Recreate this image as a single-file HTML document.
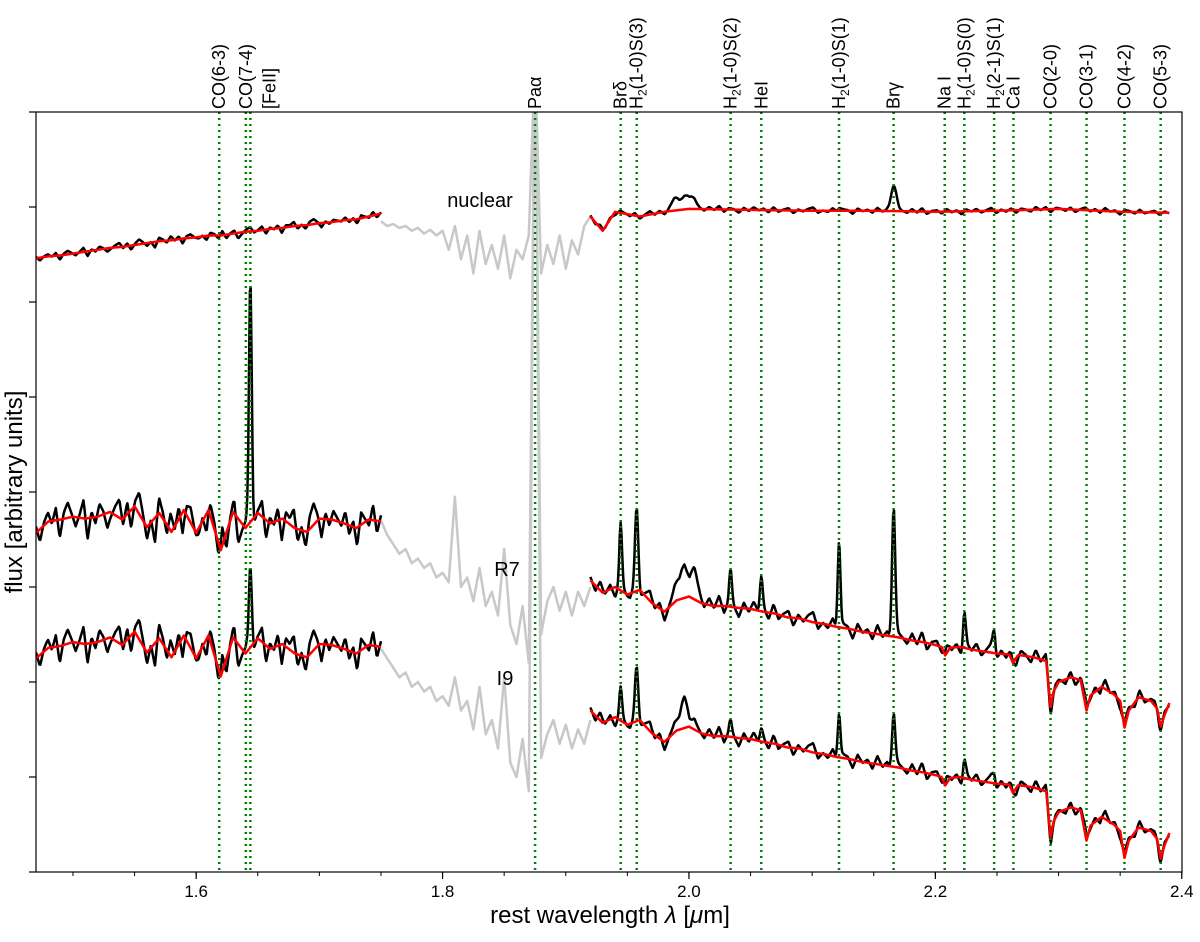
<!DOCTYPE html>
<html><head><meta charset="utf-8"><style>
body{margin:0;background:#fff}
svg text{font-family:"Liberation Sans","DejaVu Sans",sans-serif}
</style></head><body>
<svg id="chart" width="1200" height="937" viewBox="0 0 1200 937" xmlns="http://www.w3.org/2000/svg">
<defs><clipPath id="plotclip"><rect x="36" y="112" width="1146" height="760"/></clipPath></defs>
<g id="plot" clip-path="url(#plotclip)"></g>
<g id="axes"></g>
</svg>
<script>
// ---- data ----
const lineNames = ["CO(6-3)","CO(7-4)","[FeII]","Paα","Brδ","H2(1-0)S(3)","H2(1-0)S(2)","HeI","H2(1-0)S(1)","Brγ","Na I","H2(1-0)S(0)","H2(2-1)S(1)","Ca I","CO(2-0)","CO(3-1)","CO(4-2)","CO(5-3)"];
const lineWaves = [1.6187,1.6403,1.644,1.8751,1.9446,1.9576,2.0338,2.0587,2.1218,2.1661,2.2076,2.2235,2.2477,2.2634,2.2935,2.3227,2.3535,2.3829];
const xTicks = [1.6,1.8,2.0,2.2,2.4];
const xTickLabels = ["1.6","1.8","2.0","2.2","2.4"];
const yTicks = [0,1,2,3,4,5,6,7,8];

const hRange = [1.47,1.75];
const grayRange = [1.75,1.92];
const nucHRed = [6.46,6.48,6.49,6.51,6.53,6.55,6.57,6.58,6.60,6.62,6.64,6.65,6.67,6.68,6.70,6.70,6.72,6.74,6.75,6.77,6.78,6.80,6.81,6.83,6.84,6.86,6.87,6.90,6.93];
const r7HRed = [3.57,3.69,3.71,3.74,3.72,3.74,3.79,3.71,3.85,3.63,3.78,3.58,3.81,3.57,3.81,3.39,3.79,3.62,3.78,3.67,3.72,3.62,3.58,3.72,3.71,3.67,3.62,3.71,3.69];
const i9HRed = [2.25,2.36,2.38,2.42,2.40,2.42,2.47,2.39,2.53,2.31,2.46,2.26,2.49,2.25,2.49,2.06,2.47,2.30,2.46,2.35,2.40,2.30,2.26,2.40,2.39,2.35,2.30,2.39,2.37];

const nucGray = [6.85,6.80,6.82,6.78,6.80,6.75,6.78,6.72,6.76,6.70,6.75,6.55,6.80,6.45,6.70,6.30,6.75,6.40,6.60,6.35,6.70,6.25,6.55,6.45,6.70,8.6,6.30,6.60,6.40,6.70,6.35,6.65,6.50,6.80,6.90];
const r7Gray = [3.70,3.55,3.45,3.35,3.40,3.25,3.30,3.20,3.25,3.10,3.15,3.05,3.95,3.00,3.10,2.85,3.20,2.80,2.95,2.70,3.40,2.60,2.40,2.80,2.20,9.0,2.50,2.85,3.00,2.75,2.95,2.70,2.95,2.80,3.00];
const i9Gray = [2.35,2.25,2.15,2.05,2.10,1.95,2.00,1.90,1.95,1.80,1.85,1.75,2.05,1.70,1.80,1.50,1.95,1.45,1.60,1.30,2.05,1.15,1.00,1.40,0.85,9.0,1.20,1.45,1.60,1.35,1.55,1.30,1.50,1.35,1.60];

const nucKLam = [1.92,1.93,1.94,1.96,1.98,2.0,2.05,2.1,2.15,2.2,2.25,2.3,2.35,2.39];
const nucKRed = [6.9,6.75,6.95,6.9,6.95,6.98,6.97,6.96,6.96,6.95,6.96,6.98,6.95,6.94];
const kLam = [1.92,1.93,1.94,1.95,1.96,1.97,1.98,1.99,2.00,2.01,2.02,2.03,2.04,2.05,2.06,2.07,2.08,2.09,2.10,2.11,2.12,2.13,2.14,2.15,2.16,2.17,2.18,2.19,2.20,2.205,2.208,2.212,2.22,2.23,2.24,2.25,2.26,2.263,2.267,2.27,2.28,2.29,2.2935,2.296,2.30,2.31,2.318,2.3227,2.326,2.335,2.345,2.35,2.3535,2.357,2.365,2.375,2.38,2.3829,2.386,2.39];
const r7KRed = [3.07,2.94,3.0,2.92,2.97,2.83,2.74,2.86,2.9,2.83,2.8,2.8,2.78,2.77,2.74,2.72,2.68,2.67,2.63,2.61,2.58,2.56,2.53,2.51,2.49,2.47,2.44,2.42,2.39,2.37,2.28,2.36,2.37,2.34,2.32,2.3,2.29,2.2,2.28,2.28,2.26,2.22,1.74,1.9,2.0,2.05,2.02,1.7,1.86,1.95,1.87,1.8,1.52,1.7,1.84,1.8,1.72,1.53,1.65,1.78];
const i9KRed = [1.70,1.57,1.63,1.55,1.60,1.46,1.37,1.49,1.53,1.46,1.43,1.43,1.41,1.40,1.37,1.35,1.31,1.30,1.26,1.24,1.21,1.19,1.16,1.14,1.12,1.10,1.07,1.05,1.02,1.00,0.91,0.99,1.00,0.97,0.95,0.93,0.92,0.83,0.91,0.91,0.89,0.85,0.37,0.53,0.63,0.68,0.65,0.33,0.49,0.58,0.50,0.43,0.15,0.33,0.47,0.43,0.35,0.14,0.28,0.41];

const hNoise = [0.1,-0.2,0.05,0.15,-0.05,0.2,-0.3,0.1,0.25,0.05,-0.15,0.05,0.3,-0.35,0.1,-0.1,0.2,0.05,-0.25,-0.05,0.15,0.3,-0.1,0.2,-0.3,0.1,0.35,0.1,-0.2,0.05,-0.4,0.25,0.1,-0.15,0.3,-0.05,0.2,-0.35,0.15,0.25,0.0,-0.1,0.05,-0.3,0.2,0.1,-0.2,0.3,-0.25,0.05,0.2,-0.4,-0.1,0.15,0.3,-0.1,0.05,0.25,-0.3,0.1,-0.05,0.2,-0.35,0.15,0.1,0.3,-0.2,0.05,-0.25,0.2,0.35,0.1,-0.3,0.1,-0.1,0.15,0.05,-0.05,0.2,-0.15,0.1,-0.3,0.2,0.05,-0.1,0.25,-0.2,0.1];
const kNoise = [0.3,-0.5,0.8,-0.2,0.4,-0.9,0.6,0.1,-0.4,0.7,-0.6,0.2,0.9,-0.3,0.5,-0.8,0.1,0.6,-0.5,0.3,-0.7,0.8,0.2,-0.4,0.6,-0.2,0.9,-0.6,0.4,0.1,-0.8,0.5,-0.3,0.7,-0.1,0.4,-0.6,0.8,-0.4,0.2,0.6,-0.7,0.3,-0.2,0.5,0.9,-0.5,0.1,-0.3,0.7,-0.6,0.4,0.2,-0.8,0.6,-0.1,0.3,-0.5,0.8,-0.2,0.4,-0.7,0.5,0.1,-0.4,0.6,-0.3,0.9,-0.6,0.2,0.4,-0.5,0.7,-0.2,0.3,-0.8,0.5,-0.1,0.6,-0.4,0.2,0.8,-0.6,0.3,-0.3,0.5,-0.7,0.4,0.1,-0.5,0.7,-0.2,0.6,-0.8,0.3,0.1,-0.4,0.5,-0.6,0.2,0.7,-0.3,0.4,-0.5,0.8,-0.1,0.3,-0.7,0.5,0.2,-0.4,0.6,-0.3,0.1,0.4,-0.6,0.3,-0.2];

const nucEmWave = [1.99,2.0,2.1661,2.1218];
const nucEmAmp = [0.12,0.15,0.28,0.04];
const nucEmWid = [0.004,0.004,0.0022,0.0015];
const r7EmWave = [1.644,1.9446,1.9576,1.994,2.003,2.0338,2.0587,2.1218,2.1661,2.2235,2.2477];
const r7EmAmp = [2.4,0.65,0.85,0.3,0.25,0.36,0.35,0.95,1.4,0.38,0.24];
const r7EmWid = [0.0011,0.0011,0.0013,0.004,0.004,0.0011,0.0011,0.0011,0.0013,0.0011,0.0011];
const i9EmWave = [1.644,1.9446,1.9576,1.996,2.0338,2.0587,2.1218,2.1661,2.2235,2.2477];
const i9EmAmp = [0.7,0.3,0.55,0.3,0.15,0.12,0.5,0.6,0.2,0.1];
const i9EmWid = [0.0011,0.0011,0.0013,0.004,0.0011,0.0011,0.0011,0.0013,0.0011,0.0011];

const nucHNoiseAmp = 0.15, r7HNoiseAmp = 0.65, i9HNoiseAmp = 0.6;
const nucKNoiseAmp = 0.04, r7KNoiseAmp = 0.12, i9KNoiseAmp = 0.11;

// ---- scales ----
const X = l => 36 + (l - 1.47) * 1232;
const Y = f => 872 - 95 * f;
const NS = "http://www.w3.org/2000/svg";
const plot = document.getElementById('plot');
const axes = document.getElementById('axes');

function interp(xs, ys, x){
  if (x <= xs[0]) return ys[0];
  for (let i = 1; i < xs.length; i++) if (x <= xs[i]) { const t = (x - xs[i-1]) / (xs[i] - xs[i-1]); return ys[i-1] + t * (ys[i] - ys[i-1]); }
  return ys[ys.length-1];
}
function uni(n, a, b){ const o = []; for (let i = 0; i < n; i++) o.push(a + i * (b - a) / (n - 1)); return o; }
function mkPath(pts, color, w){
  const p = document.createElementNS(NS, 'path');
  p.setAttribute('d', pts.map((q, i) => (i ? 'L' : 'M') + q[0].toFixed(1) + ' ' + q[1].toFixed(1)).join(''));
  p.setAttribute('fill', 'none'); p.setAttribute('stroke', color); p.setAttribute('stroke-width', w);
  p.setAttribute('stroke-linejoin', 'round');
  return p;
}
function blackSeg(lam, red, noise, amp, a, b, ew, ea, ewd){
  const nl = uni(noise.length, a, b);
  const pts = [];
  for (let l = a; l <= b + 1e-9; l += 0.0007){
    let f = interp(lam, red, l) + amp * interp(nl, noise, l);
    for (let k = 0; k < ew.length; k++) f += ea[k] * Math.exp(-0.5 * Math.pow((l - ew[k]) / ewd[k], 2));
    pts.push([X(l), Y(f)]);
  }
  return pts;
}
function redSeg(lam, red){ return lam.map((l, i) => [X(l), Y(red[i])]); }

const hLam = uni(nucHRed.length, hRange[0], hRange[1]);
const gLam = uni(nucGray.length, grayRange[0], grayRange[1]);
const specs = [
  {id:'nuclear', hr:nucHRed, g:nucGray, kl:nucKLam, kr:nucKRed, ha:nucHNoiseAmp, ka:nucKNoiseAmp, ew:nucEmWave, ea:nucEmAmp, ewd:nucEmWid},
  {id:'r7', hr:r7HRed, g:r7Gray, kl:kLam, kr:r7KRed, ha:r7HNoiseAmp, ka:r7KNoiseAmp, ew:r7EmWave, ea:r7EmAmp, ewd:r7EmWid},
  {id:'i9', hr:i9HRed, g:i9Gray, kl:kLam, kr:i9KRed, ha:i9HNoiseAmp, ka:i9KNoiseAmp, ew:i9EmWave, ea:i9EmAmp, ewd:i9EmWid}
];
const gGray = document.createElementNS(NS,'g'), gBlack = document.createElementNS(NS,'g'), gGreen = document.createElementNS(NS,'g'), gRed = document.createElementNS(NS,'g');
[gGray, gBlack, gGreen, gRed].forEach(g => plot.appendChild(g));
specs.forEach(s => {
  let p = mkPath(gLam.map((l, i) => [X(l), Y(s.g[i])]), '#c8c8c8', 2.5);
  
  
  gGray.appendChild(p);
  p = mkPath(blackSeg(hLam, s.hr, hNoise, s.ha, hRange[0], hRange[1], s.ew, s.ea, s.ewd), '#000', 2.5);
  
  
  gBlack.appendChild(p);
  p = mkPath(blackSeg(s.kl, s.kr, kNoise, s.ka, s.kl[0], s.kl[s.kl.length-1], s.ew, s.ea, s.ewd), '#000', 2.5);
  
  
  gBlack.appendChild(p);
  p = mkPath(redSeg(hLam, s.hr), '#ff0000', 2.5);
  
  
  gRed.appendChild(p);
  p = mkPath(redSeg(s.kl, s.kr), '#ff0000', 2.5);
  
  
  gRed.appendChild(p);
});
const labelShift = {2: 19};
lineWaves.forEach((w, i) => {
  const l = document.createElementNS(NS, 'line');
  l.setAttribute('x1', X(w)); l.setAttribute('x2', X(w)); l.setAttribute('y1', 112); l.setAttribute('y2', 872);
  l.setAttribute('stroke', '#008000'); l.setAttribute('stroke-width', 2.5); l.setAttribute('stroke-dasharray', '2 4');
  
  
  gGreen.appendChild(l);
  const t = document.createElementNS(NS, 'text');
  const lx = X(w) + 6 + (labelShift[i] || 0);
  t.setAttribute('transform', 'translate(' + lx.toFixed(1) + ',109) rotate(-90)');
  t.setAttribute('font-size', '18');
  const nm = lineNames[i];
  if (nm.startsWith('H2')) {
    t.appendChild(document.createTextNode('H'));
    const sub = document.createElementNS(NS, 'tspan'); sub.setAttribute('font-size', '12'); sub.setAttribute('dy', '4'); sub.textContent = '2';
    t.appendChild(sub);
    const rest = document.createElementNS(NS, 'tspan'); rest.setAttribute('dy', '-4'); rest.textContent = nm.slice(2);
    t.appendChild(rest);
  } else t.textContent = nm;
  
  
  axes.appendChild(t);
});
const fr = document.createElementNS(NS, 'rect');
fr.setAttribute('x', 36); fr.setAttribute('y', 112); fr.setAttribute('width', 1146); fr.setAttribute('height', 760);
fr.setAttribute('fill', 'none'); fr.setAttribute('stroke', '#000'); fr.setAttribute('stroke-width', 1.2);


axes.appendChild(fr);
function tick(x1, y1, x2, y2, w){
  const l = document.createElementNS(NS, 'line');
  l.setAttribute('x1', x1); l.setAttribute('y1', y1); l.setAttribute('x2', x2); l.setAttribute('y2', y2);
  l.setAttribute('stroke', '#000'); l.setAttribute('stroke-width', w);
  
  
  axes.appendChild(l);
}
for (let v = 1.5; v <= 2.4001; v += 0.05) tick(X(v), 872, X(v), 876, 1);
xTicks.forEach((v, i) => {
  tick(X(v), 872, X(v), 879, 1.2);
  const t = document.createElementNS(NS, 'text');
  t.setAttribute('x', X(v)); t.setAttribute('y', 897); t.setAttribute('text-anchor', 'middle'); t.setAttribute('font-size', '17');
  t.textContent = xTickLabels[i];
  
  
  axes.appendChild(t);
});
yTicks.forEach(v => tick(29, Y(v), 36, Y(v), 1.2));
</script>
<svg style="position:absolute;left:0;top:0" width="1200" height="937">
<text x="480" y="207" font-size="20" text-anchor="middle" font-family="Liberation Sans, sans-serif">nuclear</text>
<text x="507" y="576" font-size="20" text-anchor="middle" font-family="Liberation Sans, sans-serif">R7</text>
<text x="505" y="685" font-size="20" text-anchor="middle" font-family="Liberation Sans, sans-serif">I9</text>
<text x="610" y="923" font-size="24" text-anchor="middle" font-family="Liberation Sans, sans-serif">rest wavelength <tspan font-style="italic">λ</tspan> [<tspan font-style="italic">μ</tspan>m]</text>
<text transform="translate(22,492) rotate(-90)" font-size="24" text-anchor="middle" font-family="Liberation Sans, sans-serif">flux [arbitrary units]</text>
</svg>
</body></html>
